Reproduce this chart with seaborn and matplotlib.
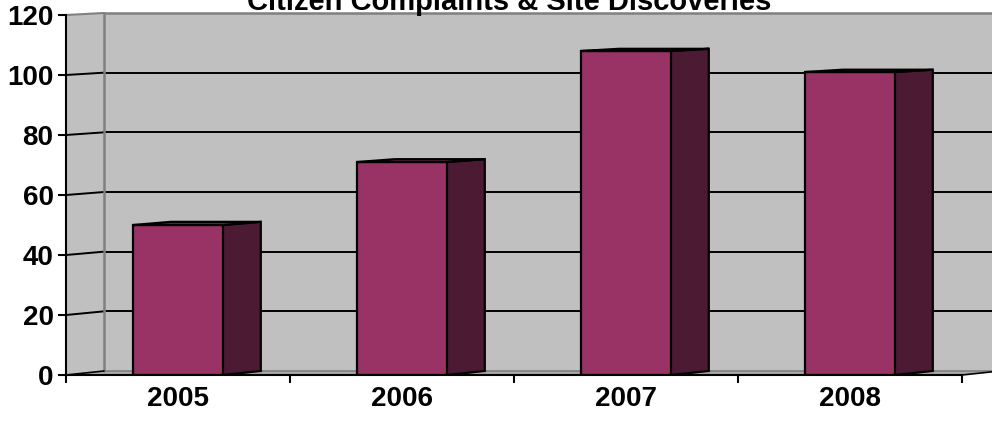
import pandas as pd
import numpy as np
import matplotlib
matplotlib.use("Agg")
import matplotlib.pyplot as plt
from matplotlib.patches import Polygon
import seaborn as sns

# data
years = ["2005", "2006", "2007", "2008"]
counts = [50, 71, 108, 101]
y_ticks = [0, 20, 40, 60, 80, 100, 120]
title = "Citizen Complaints & Site Discoveries"

df = pd.DataFrame({"Year": years, "Count": counts})

sns.set_style("white")
plt.rcParams["font.family"] = ["Liberation Sans", "DejaVu Sans"]
plt.rcParams["text.color"] = "black"
plt.rcParams["xtick.color"] = "black"
plt.rcParams["ytick.color"] = "black"
plt.rcParams["axes.labelcolor"] = "black"

W, H = 992, 422
fig = plt.figure(figsize=(W / 100, H / 100), dpi=100)
ax = fig.add_axes([66 / W, 47 / H, 896 / W, 360 / H])
ax.set_xlim(-0.5, 3.5)
ax.set_ylim(0, 120)
ax.set_facecolor("none")

# depth offset (3d look): 38px right, back wall slightly squashed
DX = 38 / 224.0


def back(x, v):
    return (x + DX, 4 / 3.0 + v * 358 / 360.0)


wall = "#c0c0c0"
edge_gray = "#808080"
x0, x1 = -0.5, 3.5

# back wall
ax.add_patch(Polygon([back(x0, 0), back(x1, 0), back(x1, 120), back(x0, 120)],
                     closed=True, facecolor=wall, edgecolor="none", zorder=0.2, clip_on=False))
# left side wall
ax.add_patch(Polygon([(x0, 0), (x0, 120), back(x0, 120), back(x0, 0)],
                     closed=True, facecolor=wall, edgecolor="none", zorder=0.2, clip_on=False))
# floor
ax.add_patch(Polygon([(x0, 0), (x1, 0), back(x1, 0), back(x0, 0)],
                     closed=True, facecolor="#a8a8a8", edgecolor="none", zorder=0.3, clip_on=False))

# gridlines on walls
for v in y_ticks[1:-1]:
    bx, by = back(x0, v)
    ax.plot([x0, bx], [v, by], color="black", lw=1.4, zorder=0.6, clip_on=False)
    ax.plot([bx, back(x1, v)[0]], [by, by], color="black", lw=1.4, zorder=0.6, clip_on=False)

# wall edges
tb = back(x0, 120)
ax.plot([x0, tb[0]], [120, tb[1]], color=edge_gray, lw=1.5, zorder=0.7, clip_on=False)
ax.plot([tb[0], back(x1, 120)[0]], [tb[1], tb[1]], color=edge_gray, lw=1.8, zorder=0.7, clip_on=False)
ax.plot([tb[0], tb[0]], [back(x0, 0)[1], tb[1]], color=edge_gray, lw=1.8, zorder=0.7, clip_on=False)
fb = back(x0, 0)
ax.plot([fb[0], back(x1, 0)[0]], [fb[1], fb[1]], color=edge_gray, lw=1.2, zorder=0.7, clip_on=False)
ax.plot([x0, fb[0]], [0, fb[1]], color="black", lw=1.2, zorder=0.7, clip_on=False)
ax.plot([x1, back(x1, 0)[0]], [0, back(x1, 0)[1]], color="black", lw=1.2, zorder=0.7, clip_on=False)

# bars
sns.barplot(data=df, x="Year", y="Count", color="#993366", saturation=1,
            width=0.4, edgecolor="black", linewidth=1.6, ax=ax, zorder=2)
ax.set_xlim(-0.5, 3.5)
ax.set_ylim(0, 120)

for p in ax.patches:
    if not hasattr(p, "get_height") or p.get_zorder() != 2:
        continue
    l = p.get_x()
    r = l + p.get_width()
    h = p.get_height()
    side = [(r, 0), back(r, 0), back(r, h), (r, h)]
    top = [(l, h), (r, h), back(r, h), back(l, h)]
    ax.add_patch(Polygon(side, closed=True, facecolor="#4d1a33", edgecolor="black",
                         lw=1.6, zorder=1.9, joinstyle="miter"))
    ax.add_patch(Polygon(top, closed=True, facecolor="#6b2447", edgecolor="black",
                         lw=1.6, zorder=2.1, joinstyle="miter"))

# axes styling
for s in ["top", "right"]:
    ax.spines[s].set_visible(False)
ax.spines["left"].set_color("black")
ax.spines["bottom"].set_color("black")
ax.spines["left"].set_linewidth(1.5)
ax.spines["bottom"].set_linewidth(1.5)
ax.spines["left"].set_zorder(3)
ax.spines["bottom"].set_zorder(3)

ax.set_yticks(y_ticks)
ax.set_yticklabels([str(v) for v in y_ticks], fontsize=20, fontweight="bold", color="black")
ax.tick_params(axis="y", direction="out", length=6, width=1.5, pad=3, left=True, colors="black")

ax.set_xticks(range(len(years)))
ax.set_xticklabels(years, fontsize=20, fontweight="bold", color="black")
ax.set_xticks(np.arange(-0.5, 4.0, 1.0), minor=True)
ax.tick_params(axis="x", which="major", length=0, pad=8, colors="black")
ax.tick_params(axis="x", which="minor", direction="out", length=6, width=1.5, bottom=True, colors="black")
ax.set_xlabel("")
ax.set_ylabel("")
ax.grid(False)

fig.text(0.513, 1 - 10 / H, title, ha="center", va="baseline",
         fontsize=21, fontweight="bold", color="black")

fig.savefig("out.png", dpi=100, facecolor="white")
